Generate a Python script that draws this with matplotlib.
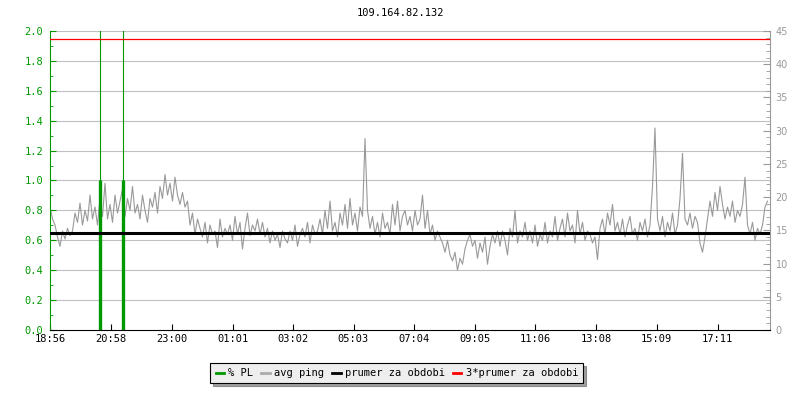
import numpy as np
import matplotlib
matplotlib.use("Agg")
import matplotlib.pyplot as plt
from matplotlib.ticker import MultipleLocator

# ================= DATA =================
TITLE = "109.164.82.132"

# avg ping [ms], one sample per 5 minutes from 18:56
ping_ms = [
    18.5, 16.7, 15.8, 14.0, 12.6, 14.9, 13.7, 15.3, 14.2, 14.9, 17.6, 16.2,
    19.1, 15.8, 18.0, 16.4, 20.3, 16.7, 18.5, 15.8, 19.8, 17.1, 22.1, 16.7,
    18.9, 16.2, 20.3, 17.6, 19.4, 21.2, 17.1, 19.8, 18.0, 21.6, 17.6, 18.9,
    16.7, 20.3, 18.0, 16.2, 19.8, 18.5, 20.7, 17.6, 21.6, 19.8, 23.4, 20.3,
    22.1, 19.4, 23.0, 20.3, 18.9, 20.7, 18.5, 19.4, 15.8, 17.6, 14.4, 16.7,
    15.3, 14.0, 16.2, 13.1, 15.8, 14.4, 14.9, 12.4, 16.7, 14.0, 15.3, 14.4,
    15.8, 13.5, 17.1, 14.4, 16.2, 12.2, 15.3, 17.6, 14.2, 15.8, 14.9, 16.7,
    14.4, 16.2, 14.0, 15.3, 13.1, 14.9, 13.5, 14.4, 12.4, 14.9, 13.7, 13.1,
    14.9, 13.5, 15.8, 12.6, 14.4, 15.3, 14.0, 16.2, 13.1, 15.8, 14.4, 14.9,
    16.7, 14.4, 18.0, 15.3, 19.4, 14.9, 16.2, 14.0, 17.6, 15.8, 18.9, 15.3,
    19.8, 15.8, 17.6, 14.9, 18.5, 17.1, 28.8, 18.0, 15.3, 17.1, 14.4, 16.2,
    14.0, 17.6, 15.3, 16.2, 14.4, 18.9, 15.8, 19.4, 14.9, 17.1, 18.0, 15.8,
    17.1, 14.9, 18.0, 15.8, 16.7, 20.3, 15.3, 18.0, 14.4, 15.8, 13.5, 14.9,
    14.0, 13.1, 11.7, 13.5, 11.3, 10.4, 11.7, 9.0, 10.8, 9.9, 12.2, 13.5,
    14.4, 12.6, 13.5, 10.8, 13.1, 11.7, 14.0, 9.9, 12.6, 14.4, 13.1, 14.9,
    12.6, 14.9, 13.5, 11.3, 15.3, 14.0, 18.0, 13.1, 14.9, 14.0, 16.2, 13.5,
    14.9, 13.1, 15.8, 12.6, 14.4, 13.5, 16.2, 13.1, 14.9, 14.0, 17.1, 13.5,
    15.3, 16.7, 14.0, 17.6, 14.9, 15.8, 13.1, 18.0, 14.4, 16.2, 13.5, 14.9,
    14.4, 13.1, 14.0, 10.6, 15.3, 16.7, 14.4, 17.6, 15.8, 18.9, 14.9, 16.2,
    14.4, 16.7, 14.0, 15.8, 17.1, 14.4, 15.3, 13.5, 16.2, 14.9, 16.7, 14.0,
    15.8, 21.6, 30.4, 16.7, 14.9, 17.1, 14.0, 16.2, 14.9, 17.6, 14.4, 15.8,
    19.8, 26.6, 16.7, 15.8, 17.6, 15.3, 17.1, 16.2, 13.1, 11.7, 14.0, 16.7,
    19.4, 17.1, 20.7, 18.0, 21.6, 18.9, 16.7, 18.5, 17.1, 19.4, 16.2, 18.0,
    17.1, 18.9, 23.0, 15.8, 14.4, 16.2, 13.5, 15.3, 14.4, 15.8, 18.5, 19.4,
]
SAMPLE_MIN = 5

# packet loss events [minutes after 18:56], [%]
pl_minutes = [99, 145]
pl_values = [1.0, 1.0]

avg_ping = 14.6          # prumer za obdobi [ms]

tick_minutes = [0, 122, 244, 365, 486, 607, 728, 849, 970, 1092, 1213, 1335]
tick_labels = ["18:56", "20:58", "23:00", "01:01", "03:02", "05:03",
               "07:04", "09:05", "11:06", "13:08", "15:09", "17:11"]

# ================= STYLE =================
GREEN = "#009900"
GRAY = "#999999"
PL_MAX = 2.0
PING_MAX = 45.0
MONO = "DejaVu Sans Mono"

plt.rcParams["font.family"] = MONO

fig = plt.figure(figsize=(8, 4), dpi=100)
ax = fig.add_axes([0.0625, 0.175, 0.9, 0.7475])
ax2 = ax.twinx()
ax.set_zorder(2)
ax2.set_zorder(1)
ax.patch.set_visible(False)

ax.set_xlim(0, 1440)
ax.set_ylim(0, PL_MAX)
ax2.set_ylim(0, PING_MAX)

# grid lines at the left axis steps
for v in np.arange(0.2, PL_MAX + 0.01, 0.2):
    ax2.axhline(v * PING_MAX / PL_MAX, color="#c0c0c0", linewidth=0.8, zorder=0)

# ping
t = np.arange(len(ping_ms)) * SAMPLE_MIN
ax2.plot(t, ping_ms, color=GRAY, linewidth=0.8, zorder=2)

# packet loss
for m, v in zip(pl_minutes, pl_values):
    ax.axvline(m, color=GREEN, linewidth=0.8, zorder=2)
    ax.vlines(m, 0, v, color=GREEN, linewidth=2.4, zorder=2)

# averages (converted to left scale)
scale = PL_MAX / PING_MAX
ax.axhline(avg_ping * scale, color="black", linewidth=2.2, zorder=3)
ax.axhline(3 * avg_ping * scale, color="red", linewidth=0.9, zorder=3)

# axes
ax.spines["top"].set_visible(False)
ax.spines["right"].set_visible(False)
ax.spines["left"].set_color(GREEN)
ax.spines["bottom"].set_color("black")
for s in ["top", "left", "bottom"]:
    ax2.spines[s].set_visible(False)
ax2.spines["right"].set_color(GRAY)

ax.set_xticks(tick_minutes, tick_labels)
ax.tick_params(axis="x", direction="in", length=4, labelsize=7.5, pad=3)

ax.yaxis.set_major_locator(MultipleLocator(0.2))
ax.yaxis.set_minor_locator(MultipleLocator(0.1))
ax.yaxis.set_major_formatter(plt.FormatStrFormatter("%.1f"))
ax.tick_params(axis="y", which="both", direction="in", colors=GREEN,
               labelsize=7.5, pad=5)
ax.tick_params(axis="y", which="major", length=4)
ax.tick_params(axis="y", which="minor", length=2.5)

ax2.yaxis.set_major_locator(MultipleLocator(5))
ax2.yaxis.set_minor_locator(MultipleLocator(1))
ax2.tick_params(axis="y", which="both", direction="in", colors=GRAY, pad=4)
ax2.tick_params(axis="y", which="major", length=5, labelsize=7)
ax2.tick_params(axis="y", which="minor", length=3)
for lbl in ax2.get_yticklabels():
    lbl.set_family("DejaVu Sans")

fig.text(0.5, 0.967, TITLE, ha="center", va="center", fontsize=7.5)

# legend
handles = [
    plt.Line2D([], [], color=GREEN, linewidth=2),
    plt.Line2D([], [], color="#aaaaaa", linewidth=2),
    plt.Line2D([], [], color="black", linewidth=2),
    plt.Line2D([], [], color="red", linewidth=2),
]
labels = ["% PL", "avg ping", "prumer za obdobi", "3*prumer za obdobi"]
leg = fig.legend(handles, labels, loc="center", bbox_to_anchor=(0.496, 0.067),
                 ncol=4, fontsize=7.5, frameon=True, fancybox=False, shadow=True,
                 handlelength=0.8, handletextpad=0.4, columnspacing=0.8,
                 borderpad=0.5)
leg.get_frame().set_facecolor("#eeeeee")
leg.get_frame().set_edgecolor("black")
leg.get_frame().set_linewidth(0.8)

fig.savefig("out.png", dpi=100)
